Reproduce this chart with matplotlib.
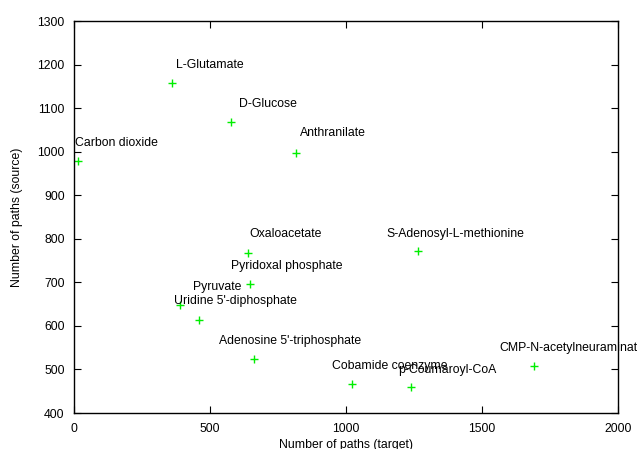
import matplotlib
matplotlib.use("Agg")
import matplotlib.pyplot as plt

plt.rcParams['font.family'] = ['Liberation Sans', 'DejaVu Sans']

names = ["Carbon dioxide", "L-Glutamate", "D-Glucose", "Anthranilate",
         "Oxaloacetate", "S-Adenosyl-L-methionine", "Pyridoxal phosphate",
         "Pyruvate", "Uridine 5'-diphosphate", "Adenosine 5'-triphosphate",
         "Cobamide coenzyme", "p-Coumaroyl-CoA", "CMP-N-acetylneuraminate"]
target = [15, 361, 577, 816, 639, 1266, 645, 389, 458, 661, 1023, 1238, 1692]
source = [978, 1157, 1067, 998, 768, 772, 696, 648, 613, 524, 466, 460, 507]
label_x = [1, 373, 606, 831, 643, 1147, 577, 437, 367, 533, 947, 1191, 1563]
label_y = [1021, 1200, 1110, 1042, 812, 812, 738, 690, 656, 566, 508, 499, 549]

xticks = [0, 500, 1000, 1500, 2000]
yticks = [400, 500, 600, 700, 800, 900, 1000, 1100, 1200, 1300]

fig = plt.figure(figsize=(6.37, 4.49), dpi=100)
ax = fig.add_axes([74.3/637, 1-413/449, (618-74.3)/637, (413-21)/449])

ax.plot(target, source, linestyle='none', marker='+', color='#00ee00',
        markersize=6, markeredgewidth=1.0)

for n, lx, ly in zip(names, label_x, label_y):
    ax.text(lx, ly, n, ha='left', va='center', fontsize=8.8, color='black',
            clip_on=False)

ax.set_xlim(0, 2000)
ax.set_ylim(400, 1300)
ax.set_xticks(xticks)
ax.set_yticks(yticks)
ax.set_xticklabels([str(v) for v in xticks])
ax.set_yticklabels([str(v) for v in yticks])
ax.tick_params(direction='in', length=5, width=0.8, top=True, right=True,
               labelsize=8.8, pad=7)
for s in ax.spines.values():
    s.set_linewidth(1.0)
    s.set_color('black')

ax.set_xlabel("Number of paths (target)", fontsize=8.8, labelpad=3)
ax.set_ylabel("Number of paths (source)", fontsize=8.8, labelpad=10)

fig.savefig("out.png", dpi=100)
